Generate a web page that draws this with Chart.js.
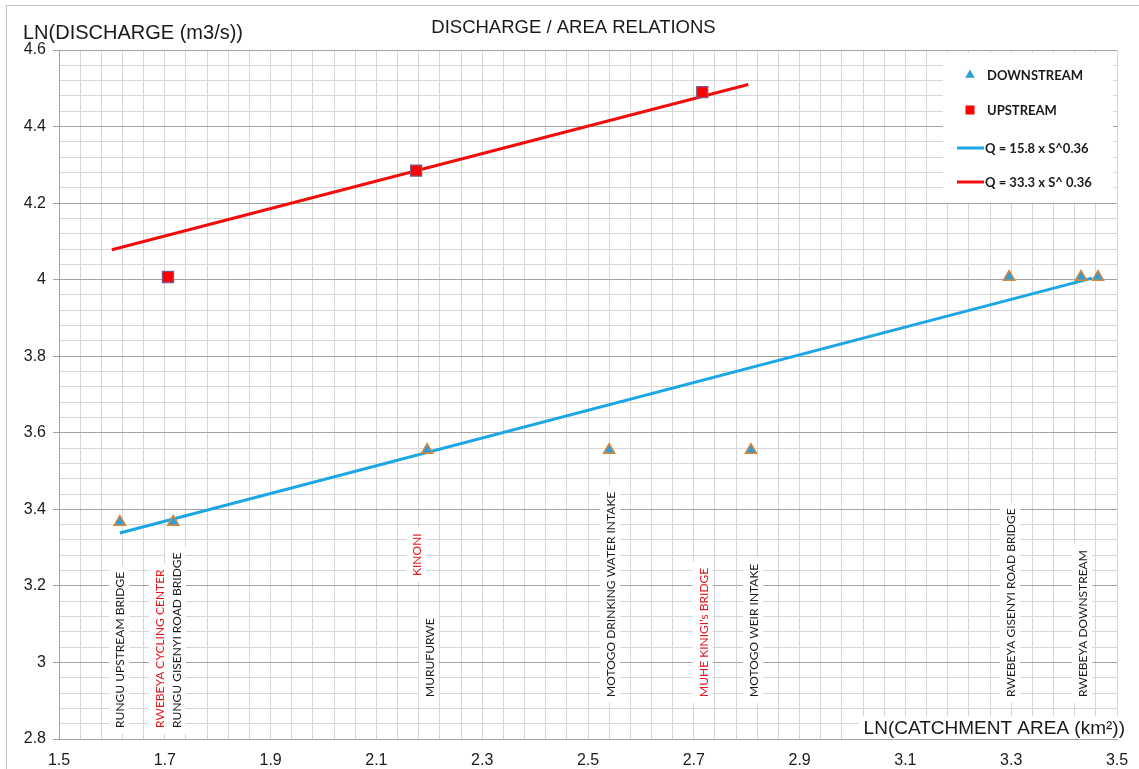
<!DOCTYPE html>
<html>
<head>
<meta charset="utf-8">
<script src="https://cdn.jsdelivr.net/npm/chart.js@4.4.1/dist/chart.umd.min.js"></script>
<style>
  html, body { margin: 0; padding: 0; background: #ffffff; }
  #wrap { width: 1139px; height: 769px; position: relative; }
  canvas { display: block; }
</style>
</head>
<body>
<div id="wrap"><canvas id="chart" width="1139" height="769"></canvas></div>
<script>
// ---- measured stations (ln of catchment area km², ln of discharge m3/s) ----
const downstreamX = [1.615, 1.716, 2.196, 2.540, 2.808, 3.296, 3.432, 3.464];
const downstreamY = [3.367, 3.367, 3.555, 3.555, 3.555, 4.007, 4.007, 4.007];
const upstreamX   = [1.706, 2.175, 2.716];
const upstreamY   = [4.007, 4.285, 4.490];

// ---- regression lines (end points) ----
const fitDownX = [1.615, 3.453];
const fitDownY = [3.338, 4.004];
const fitUpX   = [1.600, 2.803];
const fitUpY   = [4.078, 4.510];

// ---- series names ----
const seriesNames = ['DOWNSTREAM', 'UPSTREAM', 'Q = 15.8 x S^0.36', 'Q = 33.3 x S^ 0.36'];

// ---- station names, their x, and where their label column ends (y) ----
const stationNames = [
  'RUNGU UPSTREAM BRIDGE', 'RWEBEYA CYCLING CENTER', 'RUNGU GISENYI ROAD BRIDGE',
  'KINONI', 'MURUFURWE', 'MOTOGO DRINKING WATER INTAKE', "MUHE KINIGI's BRIDGE",
  'MOTOGO WEIR INTAKE', 'RWEBEYA GISENYI ROAD BRIDGE', 'RWEBEYA DOWNSTREAM'
];
const stationX      = [1.614, 1.689, 1.721, 2.175, 2.199, 2.542, 2.717, 2.812, 3.298, 3.434];
const stationLabelY = [2.829, 2.829, 2.829, 3.226, 2.910, 2.910, 2.910, 2.910, 2.910, 2.910];
const stationIsUpstream = [false, true, false, true, false, false, true, false, false, false];

// ---- axis tick labels ----
const xTickLabels = ['1.5', '1.7', '1.9', '2.1', '2.3', '2.5', '2.7', '2.9', '3.1', '3.3', '3.5'];
const yTickLabels = ['2.8', '3', '3.2', '3.4', '3.6', '3.8', '4', '4.2', '4.4', '4.6'];

const chartTitle = 'DISCHARGE / AREA RELATIONS';
const xTitle = 'LN(CATCHMENT AREA (km\u00B2))';
const yTitle = 'LN(DISCHARGE (m3/s))';

// ---- styling ----
const AXIS_FONT = '"Liberation Sans", Arial, sans-serif';
const LABEL_FONT = 'Lato, "Open Sans", sans-serif';
const MAJOR_GRID = '#a3a3a3';
const MINOR_GRID = '#d6d6d6';
const BLUE_LINE = '#1ba6e4';
const RED_LINE = '#f20d0d';
const TRI_FILL = '#2d9fd6';
const TRI_EDGE = '#d8873c';
const SQ_FILL = '#ff0000';
const SQ_EDGE = '#7b5a88';

const isMajor = v => Math.abs(v / 0.2 - Math.round(v / 0.2)) < 1e-6;
const labelFor = (list, v) => {
  const hit = list.find(t => Math.abs(parseFloat(t) - v) < 1e-6);
  return hit === undefined ? '' : hit;
};
const zip = (xs, ys) => xs.map((x, i) => ({ x: x, y: ys[i] }));

// outer frame, titles and the station name columns
const decorations = {
  id: 'decorations',
  beforeDatasetsDraw(chart) {
    const { ctx, scales: { x, y } } = chart;
    ctx.save();
    ctx.font = '12px ' + LABEL_FONT;
    ctx.textBaseline = 'middle';
    ctx.textAlign = 'left';
    stationNames.forEach((name, i) => {
      const px = x.getPixelForValue(stationX[i]);
      const py = y.getPixelForValue(stationLabelY[i]);
      const w = ctx.measureText(name).width;
      ctx.save();
      ctx.translate(px, py);
      ctx.rotate(-Math.PI / 2);
      ctx.fillStyle = '#ffffff';
      ctx.fillRect(-6, -10, w + 12, 20);
      ctx.fillStyle = stationIsUpstream[i] ? '#e8141c' : '#1a1a1a';
      ctx.fillText(name, 0, 1);
      ctx.restore();
    });

    // x axis title sits on a white patch at the lower right of the plot
    ctx.font = '19px ' + AXIS_FONT;
    const tw = ctx.measureText(xTitle).width;
    const right = chart.chartArea.right + 8;
    const cy = chart.chartArea.bottom - 11;
    ctx.fillStyle = '#ffffff';
    ctx.fillRect(right - tw - 5, cy - 12, tw + 5, 23);
    ctx.fillStyle = '#1a1a1a';
    ctx.textAlign = 'left';
    ctx.fillText(xTitle, right - tw, cy + 1);
    ctx.restore();
  },
  afterDraw(chart) {
    const { ctx, chartArea } = chart;
    ctx.save();
    // frame
    ctx.strokeStyle = '#c4c4c4';
    ctx.lineWidth = 1;
    ctx.strokeRect(6.5, 5.5, chart.width + 20, chart.height + 20);

    // chart title
    ctx.fillStyle = '#1a1a1a';
    ctx.textBaseline = 'middle';
    ctx.textAlign = 'center';
    ctx.font = '18.5px ' + AXIS_FONT;
    ctx.fillText(chartTitle, chart.width / 2 + 4, 28);

    // y axis title
    ctx.textAlign = 'left';
    ctx.font = '20px ' + AXIS_FONT;
    ctx.fillText(yTitle, 23, 33);

    // legend box inside the plot, top right
    const ds = chart.data.datasets;
    const boxR = chartArea.right - 4, boxT = chartArea.top + 3;
    const boxL = boxR - 170, boxB = boxT + 150;
    ctx.fillStyle = '#ffffff';
    ctx.fillRect(boxL, boxT, boxR - boxL, boxB - boxT);
    const rowsY = [boxT + 22, boxT + 57, boxT + 95, boxT + 129];
    const symX = boxL + 27;
    ctx.font = 'bold 13px ' + LABEL_FONT;
    ds.forEach((d, i) => {
      const ry = rowsY[i];
      if (d.pointStyle === 'triangle' || d.pointStyle === 'rect') {
        ctx.fillStyle = d.pointStyle === 'triangle' ? TRI_FILL : SQ_FILL;
        ctx.beginPath();
        if (d.pointStyle === 'triangle') {
          const r = 5.5;
          ctx.moveTo(symX, ry - r);
          ctx.lineTo(symX + r * 0.866, ry + r * 0.5);
          ctx.lineTo(symX - r * 0.866, ry + r * 0.5);
          ctx.closePath();
        } else {
          ctx.rect(symX - 4.5, ry - 4.5, 9, 9);
        }
        ctx.fill();
        ctx.fillStyle = '#1a1a1a';
        ctx.fillText(d.label, boxL + 44, ry + 1);
      } else {
        ctx.strokeStyle = d.borderColor;
        ctx.lineWidth = 3;
        ctx.beginPath();
        ctx.moveTo(boxL + 14, ry);
        ctx.lineTo(boxL + 41, ry);
        ctx.stroke();
        ctx.fillStyle = '#1a1a1a';
        ctx.fillText(d.label, boxL + 42, ry + 1);
      }
    });
    ctx.restore();
  }
};

const gridColor = ctx => (ctx.tick && isMajor(ctx.tick.value) ? MAJOR_GRID : MINOR_GRID);
const tickMarkColor = ctx => (ctx.tick && isMajor(ctx.tick.value) ? MAJOR_GRID : 'rgba(0,0,0,0)');

new Chart(document.getElementById('chart'), {
  type: 'scatter',
  data: {
    datasets: [
      {
        label: seriesNames[0],
        data: zip(downstreamX, downstreamY),
        pointStyle: 'triangle',
        pointRadius: 6.5,
        pointHoverRadius: 6.5,
        backgroundColor: TRI_FILL,
        borderColor: TRI_EDGE,
        borderWidth: 1.5,
        showLine: false
      },
      {
        label: seriesNames[1],
        data: zip(upstreamX, upstreamY),
        pointStyle: 'rect',
        pointRadius: 7.8,
        pointHoverRadius: 7.8,
        backgroundColor: SQ_FILL,
        borderColor: SQ_EDGE,
        borderWidth: 1.3,
        showLine: false
      },
      {
        label: seriesNames[2],
        data: zip(fitDownX, fitDownY),
        showLine: true,
        borderColor: BLUE_LINE,
        backgroundColor: BLUE_LINE,
        borderWidth: 3,
        pointRadius: 0,
        pointHoverRadius: 0,
        tension: 0
      },
      {
        label: seriesNames[3],
        data: zip(fitUpX, fitUpY),
        showLine: true,
        borderColor: RED_LINE,
        backgroundColor: RED_LINE,
        borderWidth: 3,
        pointRadius: 0,
        pointHoverRadius: 0,
        tension: 0
      }
    ]
  },
  options: {
    responsive: false,
    animation: false,
    events: [],
    layout: { padding: { top: 50, right: 22, left: 0, bottom: 0 } },
    plugins: {
      legend: { display: false },
      title: { display: false },
      tooltip: { enabled: false }
    },
    scales: {
      x: {
        type: 'linear',
        min: 1.5,
        max: 3.5,
        afterFit: s => { s.height = 30; },
        ticks: {
          stepSize: 0.04,
          autoSkip: false,
          maxRotation: 0,
          padding: 6,
          color: '#1a1a1a',
          font: { family: AXIS_FONT, size: 16 },
          callback: v => labelFor(xTickLabels, v)
        },
        grid: { color: gridColor, tickColor: tickMarkColor, tickLength: 6, lineWidth: 1 },
        border: { color: MAJOR_GRID, width: 1 }
      },
      y: {
        type: 'linear',
        min: 2.8,
        max: 4.6,
        afterFit: s => { s.width = 59; },
        ticks: {
          stepSize: 0.04,
          autoSkip: false,
          padding: 7,
          color: '#1a1a1a',
          font: { family: AXIS_FONT, size: 16 },
          callback: v => labelFor(yTickLabels, v)
        },
        grid: { color: gridColor, tickColor: tickMarkColor, tickLength: 6, lineWidth: 1 },
        border: { color: MAJOR_GRID, width: 1 }
      }
    }
  },
  plugins: [decorations]
});
</script>
</body>
</html>
